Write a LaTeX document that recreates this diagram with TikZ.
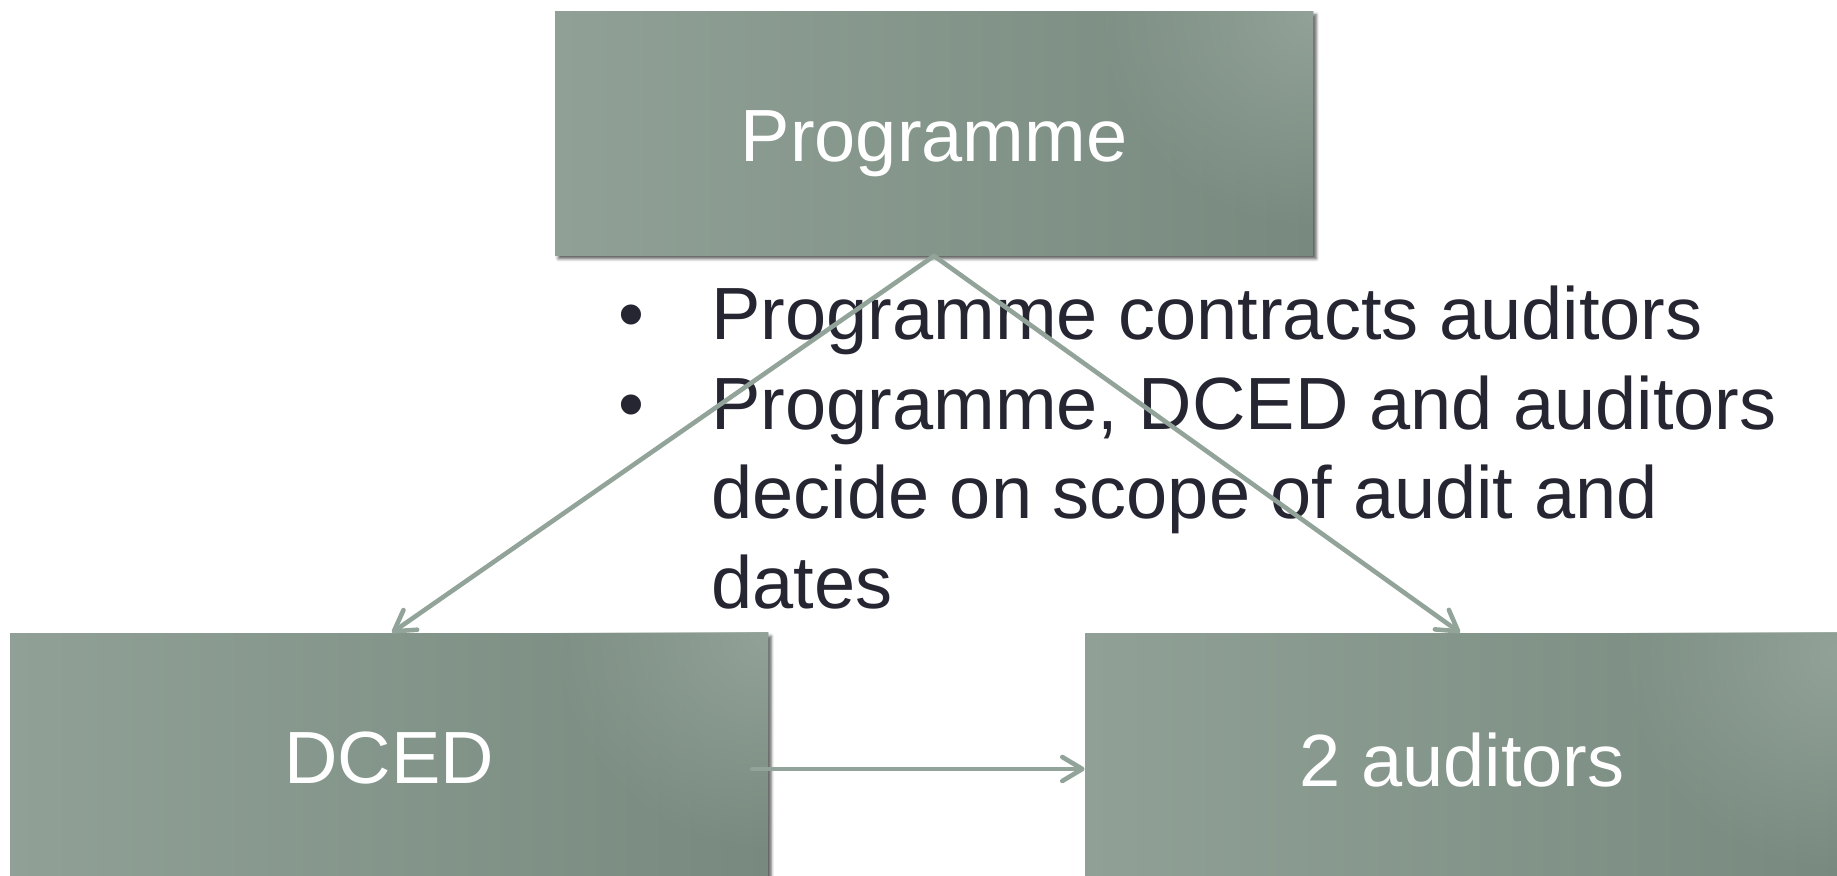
\documentclass[tikz,border=0pt]{standalone}
\usepackage{fontspec}
\setmainfont{Liberation Sans}
\usetikzlibrary{arrows.meta,shadows.blur,fadings}
\definecolor{boxL}{RGB}{144,160,150}
\definecolor{boxR}{RGB}{120,138,127}
\definecolor{boxH}{RGB}{146,162,152}
\definecolor{arrc}{RGB}{146,164,153}
\definecolor{txtc}{RGB}{38,38,50}
\tikzfading[name=hlfade, inner color=transparent!0, outer color=transparent!100]
\tikzset{
  box/.style={rectangle, inner sep=0pt, minimum width=379pt, minimum height=122pt,
    left color=boxL, right color=boxR, text=white,
    font=\fontsize{37}{44}\selectfont,
    blur shadow={shadow xshift=1.6pt, shadow yshift=-1.6pt, shadow blur radius=1.5pt, shadow opacity=65}},
  arr/.style={draw=arrc, line width=2.3pt, line cap=round,
    -{Straight Barb[length=10pt,width=12pt,line width=2.3pt,round]}},
  line/.style={anchor=base west, inner sep=0pt, text=txtc, font=\fontsize{37}{44}\selectfont},
  bul/.style={anchor=base, inner sep=0pt, text=txtc, font=\fontsize{37}{44}\selectfont},
  lbl/.style={text=white, font=\fontsize{37}{44}\selectfont, inner sep=0pt},
  hl/.style={fill=boxH, path fading=hlfade, fit fading=true}
}
\begin{document}
\begin{tikzpicture}[x=0.5pt,y=-0.5pt]
\useasboundingbox (0,0) rectangle (1837,875);
\node[box] (prog) at (934,133.5) {};
\node[box] (dced) at (389,755) {};
\node[box] (aud) at (1464,755) {};
\begin{scope}
  \clip (prog.south west) rectangle (prog.north east);
  \fill[hl] (prog.north east) circle (110pt);
\end{scope}
\begin{scope}
  \clip (dced.south west) rectangle (dced.north east);
  \fill[hl] (dced.north east) circle (110pt);
\end{scope}
\begin{scope}
  \clip (aud.south west) rectangle (aud.north east);
  \fill[hl] ([xshift=-3pt,yshift=-10pt]aud.north east) circle (110pt);
\end{scope}
\node[lbl] (progt) at ([yshift=-5pt]prog.center) {Programme};
\node[lbl] (dcedt) at ([yshift=-1.5pt]dced.center) {DCED};
\node[lbl] (audt) at ([yshift=-2.5pt,xshift=-1pt]aud.center) {2 auditors};
\node[bul] (b1) at (631,339.5) {•};
\node[bul] (b2) at (631,429) {•};
\node[line] (l1) at (711,339.5) {Programme contracts auditors};
\node[line] (l2) at (711,429) {Programme, DCED and auditors};
\node[line] (l3) at (711,518.5) {decide on scope of audit and};
\node[line] (l4) at (711,608) {dates};
\draw[arr] (prog.south) -- ([xshift=1.5pt]dced.north);
\draw[arr] (prog.south) -- ([xshift=-2pt]aud.north);
\draw[arr] ([xshift=-8pt,yshift=-7pt]dced.east) -- ([yshift=-7pt]aud.west);
\end{tikzpicture}
\end{document}
